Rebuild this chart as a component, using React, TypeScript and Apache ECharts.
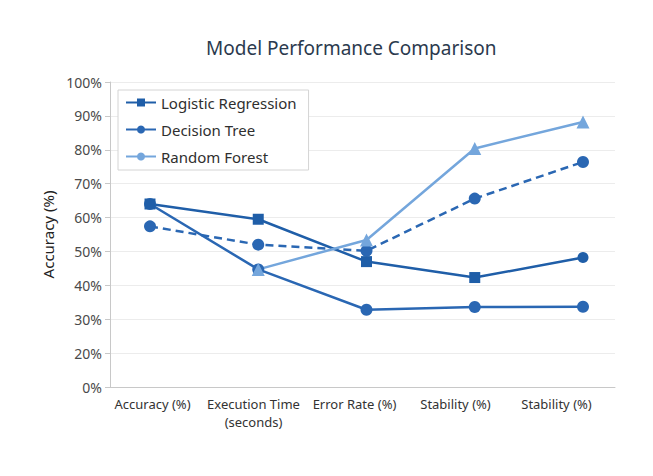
import React, { useEffect, useRef } from "react";
import * as echarts from "echarts";

const categories = ["Accuracy (%)", "Execution Time\n(seconds)", "Error Rate (%)", "Stability (%)", "Stability (%)"];
const yTicks = [10, 20, 30, 40, 50, 60, 70, 80, 90, 100];
const logisticValues = [64, 59.5, 47, 42.3, 48.2];
const logisticSymbols = ["rect", "rect", "rect", "rect", "circle"];
const treeSolidValues = [64, 44.7, 32.8, 33.6, 33.7];
const treeDashedValues = [57.4, 52, 50.2, 65.6, 76.4];
const forestValues: (number | null)[] = [null, 44.7, 53.4, 80.4, 88.2];
const legendNames = ["Logistic Regression", "Decision Tree", "Random Forest"];

const DARK = "#1f5ea8";
const MID = "#2a67b3";
const LIGHT = "#74a6dc";
const FONT = "Noto Sans";

export default function App() {
  const ref = useRef<HTMLDivElement>(null);
  useEffect(() => {
    if (!ref.current) return;
    const chart = echarts.init(ref.current, undefined, { renderer: "svg" });
    const top = 82;
    const bottom = 476 - 387;
    chart.setOption({
      animation: false,
      backgroundColor: "#ffffff",
      textStyle: { fontFamily: FONT },
      title: {
        text: "Model Performance Comparison",
        left: 201,
        top: 33,
        textStyle: { fontFamily: FONT, fontSize: 19, fontWeight: "normal", color: "#2b3a4e" },
      },
      legend: {
        data: legendNames,
        orient: "vertical",
        left: 118,
        top: 90,
        itemWidth: 30,
        itemHeight: 10,
        itemGap: 12,
        padding: [5, 12, 6, 7],
        borderColor: "#d4d4d4",
        borderWidth: 1,
        backgroundColor: "#ffffff",
        textStyle: { fontFamily: FONT, fontSize: 15, color: "#2f2f2f" },
        lineStyle: { type: "solid" },
      },
      grid: [
        { left: 110, right: 38, top, bottom },
        { left: 150, right: 70, top, bottom },
        { left: 102, right: 46, top, bottom },
      ],
      xAxis: [
        {
          gridIndex: 0,
          type: "category",
          data: categories,
          axisLine: { show: true, lineStyle: { color: "#c8c8c8" } },
          axisTick: { show: false },
          axisLabel: { show: false },
        },
        {
          gridIndex: 1,
          type: "category",
          data: categories,
          boundaryGap: false,
          axisLine: { show: false },
          axisTick: { show: false },
          axisLabel: { show: false },
        },
        {
          gridIndex: 2,
          type: "category",
          data: categories,
          boundaryGap: true,
          axisLine: { show: false },
          axisTick: { show: false },
          axisLabel: { interval: 0, fontFamily: FONT, fontSize: 13, color: "#333", margin: 8, lineHeight: 18 },
        },
      ],
      yAxis: [
        {
          gridIndex: 0,
          type: "value",
          min: yTicks[0],
          max: yTicks[yTicks.length - 1],
          interval: 10,
          name: "Accuracy (%)",
          nameLocation: "middle",
          nameGap: 55,
          nameTextStyle: { fontFamily: FONT, fontSize: 15, color: "#222" },
          axisLine: { show: true, lineStyle: { color: "#c8c8c8" } },
          axisTick: { show: true, length: 5, lineStyle: { color: "#c8c8c8" } },
          axisLabel: {
            fontFamily: FONT,
            fontSize: 14,
            color: "#4a4a4a",
            margin: 8,
            formatter: (v: number) => (v === yTicks[0] ? "0%" : v + "%"),
          },
          splitLine: { show: true, lineStyle: { color: "#ececec" } },
        },
        {
          gridIndex: 1,
          type: "value",
          min: yTicks[0],
          max: yTicks[yTicks.length - 1],
          show: false,
        },
        { gridIndex: 2, type: "value", show: false },
      ],
      series: [
        ...legendNames.map((n, i) => ({
          name: n,
          type: "line",
          xAxisIndex: 1,
          yAxisIndex: 1,
          data: [],
          symbol: i === 0 ? "rect" : "circle",
          symbolSize: 9,
          itemStyle: { color: [DARK, MID, LIGHT][i] },
          lineStyle: { color: [DARK, MID, LIGHT][i], width: 2.5 },
        })),
        {
          name: "Decision Tree (solid)",
          type: "line",
          xAxisIndex: 1,
          yAxisIndex: 1,
          data: treeSolidValues,
          symbol: "circle",
          symbolSize: 12,
          itemStyle: { color: MID },
          lineStyle: { color: MID, width: 2.5 },
        },
        {
          name: "Decision Tree (dashed)",
          type: "line",
          xAxisIndex: 1,
          yAxisIndex: 1,
          data: treeDashedValues,
          symbol: "circle",
          symbolSize: 12,
          itemStyle: { color: MID },
          lineStyle: { color: MID, width: 2.5, type: [8, 5] },
        },
        {
          name: "Logistic Regression (line)",
          type: "line",
          xAxisIndex: 1,
          yAxisIndex: 1,
          data: logisticValues.map((v, i) => ({ value: v, symbol: logisticSymbols[i] })),
          symbolSize: 11,
          itemStyle: { color: DARK },
          lineStyle: { color: DARK, width: 2.5 },
        },
        {
          name: "Random Forest (line)",
          type: "line",
          xAxisIndex: 1,
          yAxisIndex: 1,
          data: forestValues.map((v) => (v === null ? "-" : v)),
          symbol: "triangle",
          symbolSize: 13,
          itemStyle: { color: LIGHT },
          lineStyle: { color: LIGHT, width: 2.5 },
        },
      ],
    });
    return () => chart.dispose();
  }, []);
  return (
    <div
      ref={ref}
      style={{ position: "absolute", left: 0, top: 0, width: 653, height: 476, background: "#fff" }}
    />
  );
}
